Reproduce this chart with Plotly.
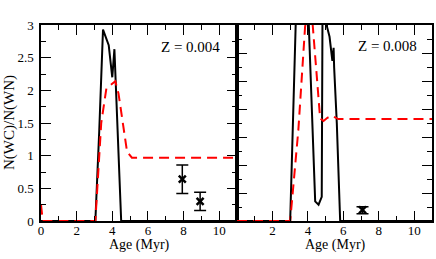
import plotly.graph_objects as go

# Z = 0.004 (left panel)
bk1_x = [0, 3.05, 3.27, 3.40, 3.48, 3.80, 4.00, 4.12, 4.27, 4.50, 11]
bk1_y = [0, 0, 1.39, 2.57, 2.93, 2.69, 2.20, 2.63, 1.50, 0, 0]
rd1_x = [0, 0.1, 3.05, 3.38, 3.67, 4.17, 4.35, 4.60, 4.83, 5.10, 11]
rd1_y = [0.25, 0, 0, 1.50, 2.03, 2.14, 1.95, 1.47, 1.06, 0.97, 0.97]
obs1_x = [7.93, 8.93]
obs1_y = [0.64, 0.30]
obs1_up = [0.857 - 0.64, 0.44 - 0.30]
obs1_dn = [0.64 - 0.42, 0.30 - 0.16]

# Z = 0.008 (right panel)
bk2_x = [0, 3.0, 3.31, 3.60, 4.05, 4.41, 4.60, 4.78, 4.82, 4.95, 5.08, 5.22, 5.38, 5.45, 5.48, 5.63, 5.82, 11]
bk2_y = [0, 0, 3.0, 4.5, 3.0, 0.30, 0.25, 0.37, 3.0, 3.8, 2.97, 2.82, 2.45, 2.65, 2.35, 1.50, 0, 0]
rd2_x = [0, 3.0, 3.46, 3.84, 4.05, 4.27, 4.69, 4.88, 5.10, 5.35, 5.72, 11]
rd2_y = [0, 0, 1.39, 2.97, 3.3, 3.0, 1.57, 1.53, 1.58, 1.61, 1.56, 1.56]
obs2_x = [7.08]
obs2_y = [0.17]
obs2_up = [0.05]
obs2_dn = [0.06]

x_ticks_left = [0, 2, 4, 6, 8, 10]
x_ticks_right = [2, 4, 6, 8, 10]
y_ticks = [0, 0.5, 1, 1.5, 2, 2.5, 3]
y_tick_text = ["0", "0.5", "1", "1.5", "2", "2.5", "3"]

FONT = "Liberation Serif, Times New Roman, serif"
W, H = 436, 259
xl0, xl1, xr1 = 41 / W, 237 / W, 432 / W
yb, yt = (H - 221) / H, (H - 25) / H

fig = go.Figure()
dash = "10px,6px"
fig.add_trace(go.Scatter(x=bk1_x, y=bk1_y, mode="lines", line=dict(color="black", width=2),
                         xaxis="x", yaxis="y", showlegend=False))
fig.add_trace(go.Scatter(x=rd1_x, y=rd1_y, mode="lines", line=dict(color="#ff0000", width=2, dash=dash),
                         xaxis="x", yaxis="y", showlegend=False))
fig.add_trace(go.Scatter(x=obs1_x, y=obs1_y, mode="markers",
                         marker=dict(symbol="x-thin", size=7, line=dict(color="black", width=2.5)),
                         error_y=dict(type="data", symmetric=False, array=obs1_up, arrayminus=obs1_dn,
                                      color="black", thickness=1.5, width=6),
                         xaxis="x", yaxis="y", showlegend=False))
fig.add_trace(go.Scatter(x=bk2_x, y=bk2_y, mode="lines", line=dict(color="black", width=2),
                         xaxis="x2", yaxis="y2", showlegend=False))
fig.add_trace(go.Scatter(x=rd2_x, y=rd2_y, mode="lines", line=dict(color="#ff0000", width=2, dash=dash),
                         xaxis="x2", yaxis="y2", showlegend=False))
fig.add_trace(go.Scatter(x=obs2_x, y=obs2_y, mode="markers",
                         marker=dict(symbol="x-thin", size=7, line=dict(color="black", width=2.5)),
                         error_y=dict(type="data", symmetric=False, array=obs2_up, arrayminus=obs2_dn,
                                      color="black", thickness=1.5, width=6),
                         xaxis="x2", yaxis="y2", showlegend=False))

axis_common = dict(showline=True, linecolor="black", linewidth=1.5, mirror="allticks",
                   ticks="inside", ticklen=10, tickwidth=1.3, tickcolor="black",
                   showgrid=False, zeroline=False, automargin=False,
                   tickfont=dict(family=FONT, size=13, color="black"))
minor = dict(ticks="inside", ticklen=5, tickwidth=1.3, tickcolor="black", showgrid=False)

fig.update_layout(
    width=W, height=H, margin=dict(l=0, r=0, t=0, b=0, pad=0, autoexpand=False),
    paper_bgcolor="white", plot_bgcolor="white",
    font=dict(family=FONT, color="black"),
    xaxis=dict(domain=[xl0, xl1], range=[0, 11], tickmode="array", tickvals=x_ticks_left,
               minor=dict(dtick=1, tick0=0, **minor), anchor="y", ticklabelstandoff=-3, **axis_common),
    yaxis=dict(domain=[yb, yt], range=[0, 3], tickmode="array", tickvals=y_ticks, ticktext=y_tick_text,
               minor=dict(dtick=0.25, tick0=0, **minor), anchor="x", ticklabelstandoff=3, **axis_common),
    xaxis2=dict(domain=[xl1, xr1], range=[0, 11], tickmode="array", tickvals=[0] + x_ticks_right,
                ticktext=[""] + [str(v) for v in x_ticks_right],
                minor=dict(dtick=1, tick0=0, **minor), anchor="y2", ticklabelstandoff=-3, **axis_common),
    yaxis2=dict(domain=[yb, yt], range=[0, 3], tick0=0, dtick=3 / 7, showticklabels=False,
                minor=dict(dtick=3 / 14, tick0=0, **minor), anchor="x2", **axis_common),
)

ann = [
    ("Z = 0.004", 190, 47, 0, 15),
    ("Z = 0.008", 387, 46, 0, 15),
    ("Age (Myr)", 139, 245, 0, 14),
    ("Age (Myr)", 335, 245, 0, 14),
    ("N(WC)/N(WN)", 10, 123, -90, 15),
]
for text, px, py, ang, fs in ann:
    fig.add_annotation(text=text, x=px / W, y=1 - py / H, xref="paper", yref="paper",
                       xanchor="center", yanchor="middle", showarrow=False, textangle=ang,
                       borderpad=0, font=dict(family=FONT, size=fs, color="black"))

fig.write_html("out.html", config={"displayModeBar": False},
               post_script="document.body.style.margin='0';document.body.style.padding='0';")
